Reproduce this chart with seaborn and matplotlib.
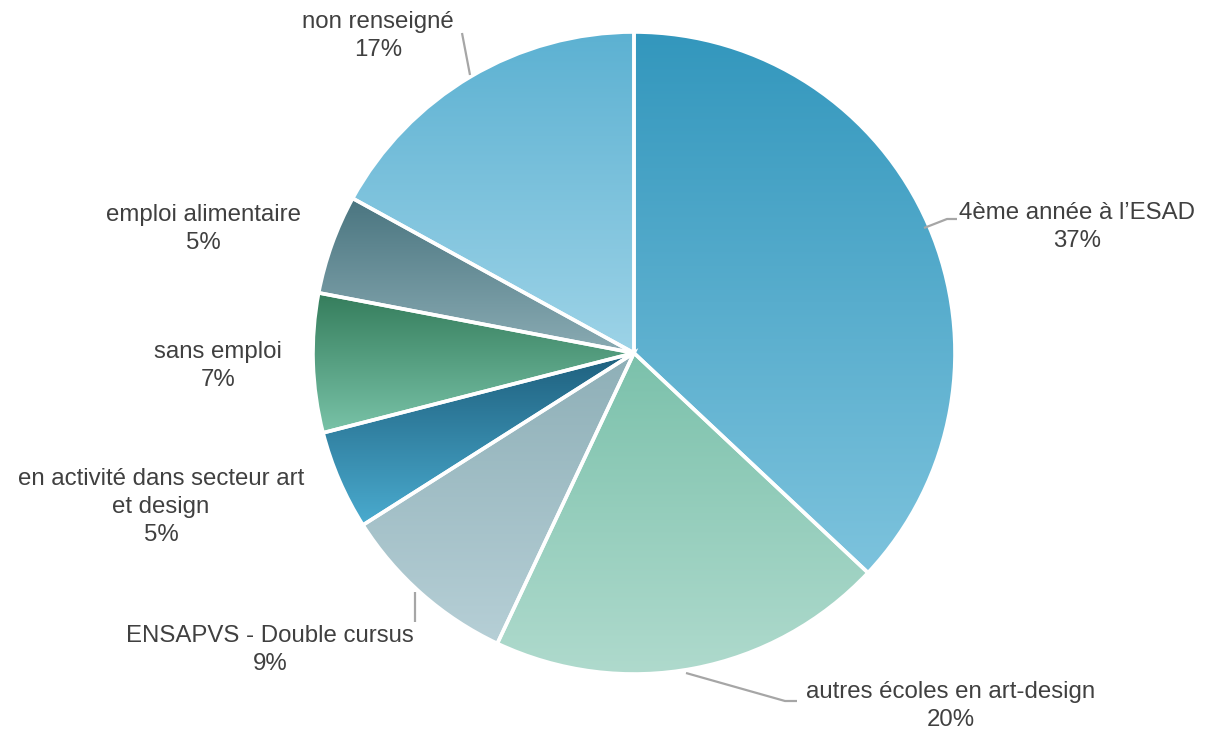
import numpy as np
import matplotlib
matplotlib.use("Agg")
import matplotlib.pyplot as plt
import seaborn as sns
from matplotlib.colors import LinearSegmentedColormap
from matplotlib.patches import Wedge

# ---- data ----
categories = [
    "4ème année à l’ESAD",
    "autres écoles en art-design",
    "ENSAPVS - Double cursus",
    "en activité dans secteur art\net design",
    "sans emploi",
    "emploi alimentaire",
    "non renseigné",
]
values = [37, 20, 9, 5, 7, 5, 17]
pct_labels = ["37%", "20%", "9%", "5%", "7%", "5%", "17%"]

# ---- style ----
top_colors = ["#3397bd", "#7bc1ab", "#8eafb7", "#1e5f7d", "#357d5c", "#4a7580", "#5cb1d2"]
bottom_colors = ["#7dc3dd", "#afdacd", "#b6cfd6", "#4aabcf", "#79c3a8", "#8aabb3", "#9dd3e7"]

sns.set_theme(style="white")
plt.rcParams['font.family'] = ['Liberation Sans', 'DejaVu Sans']

W, H = 1222, 734
fig = plt.figure(figsize=(W / 100, H / 100), dpi=100)
ax = fig.add_axes([0, 0, 1, 1])

CX, CY, R = 634, 353, 321.0


def px(x, y):
    return ((x - CX) / R, (CY - y) / R)


wedges, _ = ax.pie(values, startangle=90, counterclock=False, radius=1,
                   colors=top_colors, wedgeprops=dict(linewidth=0))
ax.set_aspect('equal')
ax.axis('off')

for i, w in enumerate(wedges):
    t1, t2 = w.theta1, w.theta2
    angs = np.linspace(np.radians(t1), np.radians(t2), 200)
    ys = np.concatenate([[0], np.sin(angs)])
    xs = np.concatenate([[0], np.cos(angs)])
    cmap = LinearSegmentedColormap.from_list("g%d" % i, [bottom_colors[i], top_colors[i]])
    grad = np.linspace(1, 0, 256).reshape(-1, 1)
    im = ax.imshow(grad, cmap=cmap, extent=(xs.min(), xs.max(), ys.min(), ys.max()),
                   aspect='auto', origin='upper', zorder=2, interpolation='bilinear')
    im.set_clip_path(w)
    ax.add_patch(Wedge((0, 0), 1, t1, t2, fill=False, edgecolor='white',
                       linewidth=2.6, zorder=3))

ax.set_xlim(-CX / R, (W - CX) / R)
ax.set_ylim(-(H - CY) / R, CY / R)

txt_color = "#404040"
line_color = "#a6a6a6"
fs = 17.3

label_pos = [(1077, 227), (951, 706), (270, 650), (161, 507), (218, 366), (203, 229), (378, 36)]
for cat, pct, (x, y) in zip(categories, pct_labels, label_pos):
    ax.text(*px(x, y), cat + "\n" + pct, ha='center', va='center', fontsize=fs,
            color=txt_color, linespacing=1.36, zorder=5)

leaders = [
    [(924, 228), (947, 219), (957, 219)],
    [(686, 673), (785, 701), (797, 701)],
    [(415, 592), (415, 622)],
    [(462, 33), (470, 75)],
]
for pts in leaders:
    p = [px(a, b) for a, b in pts]
    ax.plot([q[0] for q in p], [q[1] for q in p], color=line_color, lw=1.6,
            zorder=4, solid_capstyle='butt')

fig.savefig("out.png", dpi=100, facecolor="white")
